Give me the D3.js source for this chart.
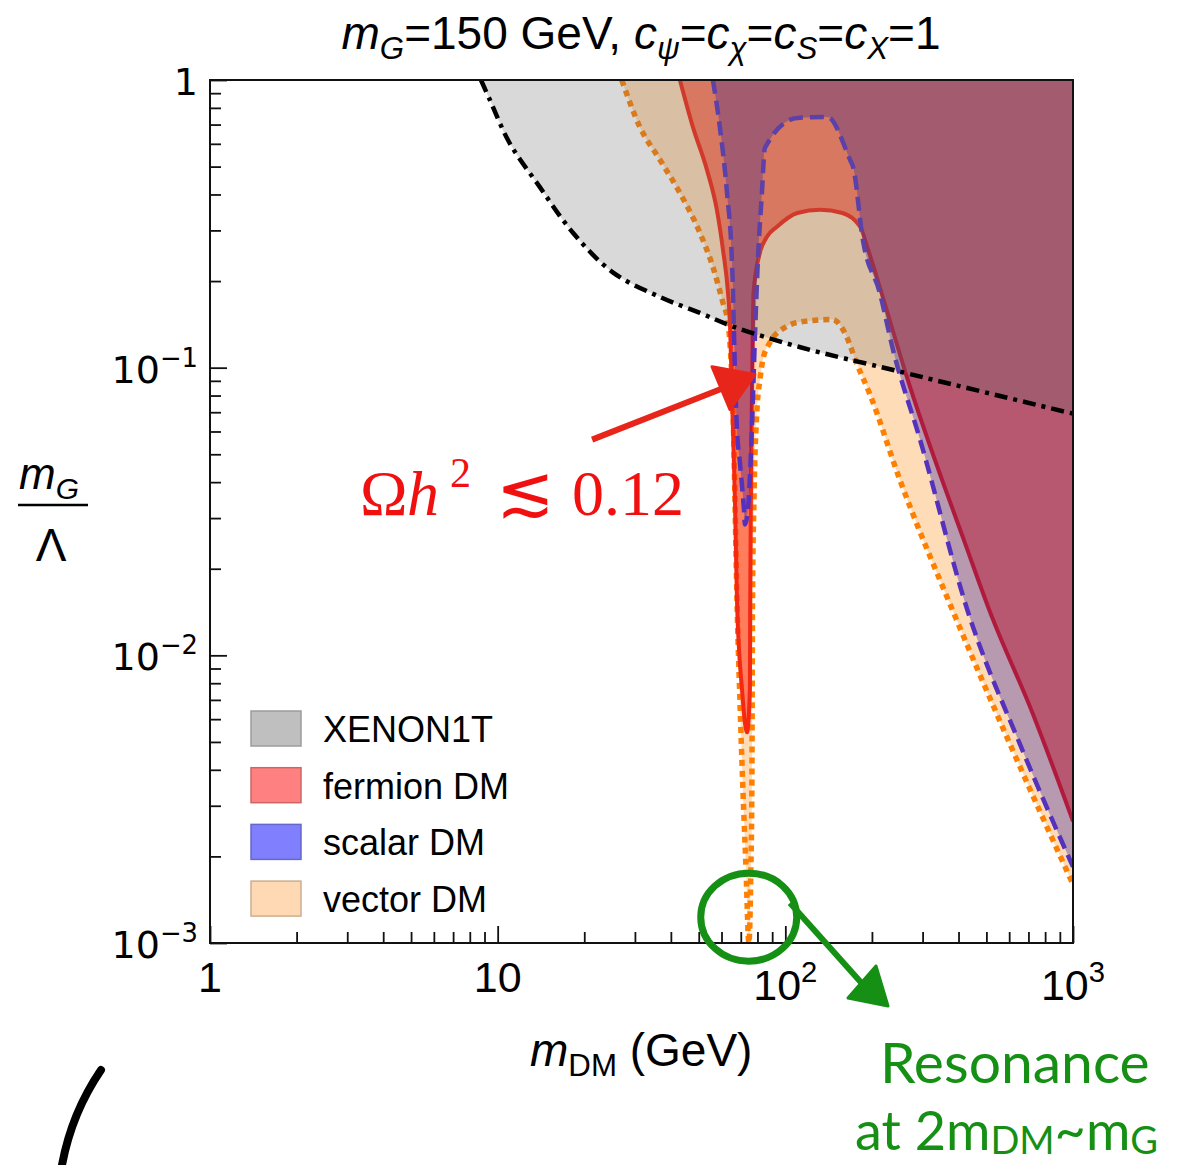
<!DOCTYPE html>
<html>
<head>
  <meta charset="utf-8">
  <title>Relic density and XENON1T bounds, m_G = 150 GeV</title>
  <script src="https://d3js.org/d3.v7.min.js"></script>
  <style>
    body { margin: 0; background: #fff; }
    text { font-family: "Liberation Sans", Arial, sans-serif; }
  </style>
</head>
<body>
  <script>
    // Boundaries: [m_DM (GeV), m_G/Lambda]
    const xenonBoundary = [[8.75, 1], [9.40, 0.852], [11.0, 0.604], [14.0, 0.425], [18.3, 0.294],
      [25.2, 0.214], [36.7, 0.176], [50.5, 0.155], [65.8, 0.139], [112, 0.118], [250, 0.0969], [1000, 0.0692]];

    const vectorBoundary = [[27.0, 1], [31.2, 0.687], [36.7, 0.527], [43.0, 0.405], [50.5, 0.294],
      [56.0, 0.224], [60.7, 0.168], [63.2, 0.143], [64.7, 0.107], [65.8, 0.0715], [66.8, 0.0348],
      [67.9, 0.0156], [69.5, 0.00704], [71.2, 0.00343], [73.0, 0.00181], [74.7, 0.001],
      [75.9, 0.00181], [76.5, 0.00343], [76.7, 0.00704], [76.9, 0.0156], [77.8, 0.0348],
      [79.7, 0.0715], [81.6, 0.0908], [83.6, 0.107], [88.3, 0.122], [101, 0.139], [112, 0.144],
      [146, 0.147], [164, 0.127], [176, 0.105], [197, 0.0806], [250, 0.0408], [383, 0.0142],
      [604, 0.00491], [1000, 0.0016]];

    const fermionBoundary = [[43.0, 1], [47.7, 0.687], [53.4, 0.487], [57.8, 0.354], [60.7, 0.257],
      [63.2, 0.182], [64.2, 0.143], [65.4, 0.0735], [66.8, 0.0348], [67.9, 0.0156], [70.7, 0.00762],
      [73.6, 0.0054], [75.3, 0.00762], [75.5, 0.0156], [75.9, 0.0348], [76.5, 0.0735], [77.1, 0.135],
      [77.5, 0.182], [81.6, 0.251], [86.3, 0.285], [93.5, 0.309], [110, 0.345], [132, 0.354],
      [158, 0.345], [182, 0.309], [194, 0.257], [222, 0.166], [261, 0.0969], [428, 0.0235],
      [514, 0.0142], [726, 0.00624], [1000, 0.00265]];

    const scalarBoundary = [[56.0, 1], [59.2, 0.687], [62.7, 0.405], [65.2, 0.237], [65.8, 0.182],
      [66.3, 0.13], [67.9, 0.0609], [69.5, 0.047], [71.8, 0.0321], [72.4, 0.0285], [74.1, 0.0321],
      [76.5, 0.0609], [78.4, 0.128], [80.3, 0.237], [82.9, 0.405], [84.9, 0.581], [110, 0.738],
      [140, 0.744], [168, 0.527], [172, 0.499], [186, 0.278], [213, 0.182], [237, 0.115],
      [294, 0.0562], [431, 0.0142], [654, 0.00491], [1000, 0.00184]];

    const xTickValues = [1, 10, 100, 1000];
    const xTickLabels = [["1", ""], ["10", ""], ["10", "2"], ["10", "3"]];
    const yTickValues = [1, 0.1, 0.01, 0.001];
    const yTickLabels = [["1", ""], ["10", "\u22121"], ["10", "\u22122"], ["10", "\u22123"]];
    const legendLabels = ["XENON1T", "fermion DM", "scalar DM", "vector DM"];

    const width = 1189, height = 1165;
    const box = {left: 210, right: 1073, top: 80, bottom: 943};

    const svg = d3.select("body").append("svg")
      .attr("width", width)
      .attr("height", height);

    const x = d3.scaleLog().domain([1, 1000]).range([box.left, box.right]);
    const y = d3.scaleLog().domain([1e-3, 1]).range([box.bottom, box.top]);

    svg.append("clipPath").attr("id", "plot")
      .append("rect")
      .attr("x", box.left).attr("y", box.top)
      .attr("width", box.right - box.left).attr("height", box.bottom - box.top);

    const line = d3.line().x(d => x(d[0])).y(d => y(d[1])).curve(d3.curveMonotoneX);
    const smooth = d3.line().x(d => x(d[0])).y(d => y(d[1])).curve(d3.curveCatmullRom.alpha(0.5));

    const layers = [
      {pts: vectorBoundary, gen: line, fill: "rgb(255,128,0)", op: 0.28, stroke: "rgb(255,128,0)", dash: "6,5", w: 5.5},
      {pts: fermionBoundary, gen: line, fill: "rgb(255,30,0)", op: 0.5, stroke: "rgb(245,40,20)", dash: null, w: 4},
      {pts: scalarBoundary, gen: line, fill: "rgb(16,0,158)", op: 0.3, stroke: "rgb(85,50,190)", dash: "14,7", w: 4.5},
      {pts: xenonBoundary, gen: smooth, fill: "rgb(107,107,107)", op: 0.26, stroke: "#000", dash: "13,6,4,6", w: 4.5}
    ];

    // each region lies above its boundary, closed along the top right corner
    const plot = svg.append("g").attr("clip-path", "url(#plot)");
    layers.forEach(l => {
      plot.append("path").attr("d", l.gen(l.pts) + "L" + x(1000) + "," + y(1) + "Z")
        .attr("fill", l.fill).attr("fill-opacity", l.op);
      plot.append("path").attr("d", l.gen(l.pts))
        .attr("fill", "none")
        .attr("stroke", l.stroke)
        .attr("stroke-width", l.w)
        .attr("stroke-dasharray", l.dash);
    });

    // ticks (inward), minor and major
    const xMinor = x.ticks().filter(v => !xTickValues.includes(v));
    const yMinor = y.ticks().filter(v => !yTickValues.includes(v));
    const noDomain = g => g.select(".domain").remove();

    svg.append("g").attr("transform", "translate(0," + box.bottom + ")")
      .call(d3.axisBottom(x).tickValues(xMinor).tickSize(-11).tickFormat("")).call(noDomain);
    svg.append("g").attr("transform", "translate(0," + box.bottom + ")")
      .call(d3.axisBottom(x).tickValues(xTickValues).tickSize(-17).tickFormat("")).call(noDomain);
    svg.append("g").attr("transform", "translate(" + box.left + ",0)")
      .call(d3.axisLeft(y).tickValues(yMinor).tickSize(-11).tickFormat("")).call(noDomain);
    svg.append("g").attr("transform", "translate(" + box.left + ",0)")
      .call(d3.axisLeft(y).tickValues(yTickValues).tickSize(-17).tickFormat("")).call(noDomain);
    svg.selectAll(".tick line").attr("stroke", "#111").attr("stroke-width", 1.8);

    svg.append("rect")
      .attr("x", box.left).attr("y", box.top)
      .attr("width", box.right - box.left).attr("height", box.bottom - box.top)
      .attr("fill", "none").attr("stroke", "#111").attr("stroke-width", 2);

    // text with italic / sub / superscript pieces
    function rich(t, parts, size) {
      let shift = 0;
      parts.forEach(([s, k]) => {
        const small = k.includes("sub") || k.includes("sup");
        const target = k.includes("sub") ? size * 0.22 : k.includes("sup") ? -size * 0.42 : 0;
        t.append("tspan").text(s)
          .attr("dy", target - shift)
          .attr("font-size", small ? size * 0.68 : size)
          .attr("font-style", k.includes("i") ? "italic" : "normal");
        shift = target;
      });
    }

    // tick labels
    xTickValues.forEach((v, i) => {
      const [base, sup] = xTickLabels[i];
      const t = svg.append("text")
        .attr("x", x(v)).attr("y", sup ? 1000 : 992)
        .attr("text-anchor", "middle").attr("font-size", 43);
      rich(t, sup ? [[base, ""], [sup, "sup"]] : [[base, ""]], 43);
    });
    yTickValues.forEach((v, i) => {
      const [base, sup] = yTickLabels[i];
      const t = svg.append("text")
        .attr("x", 198).attr("y", y(v) + 15)
        .attr("text-anchor", "end")
        .style("font-family", "'DejaVu Sans', sans-serif");
      rich(t, sup ? [[base, ""], [sup, "sup"]] : [[base, ""]], 38);
    });

    // title
    const title = svg.append("text").attr("x", 641).attr("y", 49).attr("text-anchor", "middle");
    rich(title, [["m", "i"], ["G", "isub"], ["=150 GeV, ", ""], ["c", "i"], ["\u03c8", "isub"], ["=", ""],
      ["c", "i"], ["\u03c7", "isub"], ["=", ""], ["c", "i"], ["S", "isub"], ["=", ""],
      ["c", "i"], ["X", "isub"], ["=1", ""]], 46);

    // axis labels
    const xl = svg.append("text").attr("x", 530).attr("y", 1066);
    rich(xl, [["m", "i"], ["DM", "sub"], [" (GeV)", ""]], 46);

    const yl = svg.append("g").style("font-family", "'DejaVu Sans', sans-serif");
    const yn = yl.append("text").attr("x", 19).attr("y", 489);
    rich(yn, [["m", "i"], ["G", "isub"]], 44);
    yl.append("line").attr("x1", 18).attr("x2", 88).attr("y1", 505).attr("y2", 505)
      .attr("stroke", "#000").attr("stroke-width", 2.5);
    yl.append("text").attr("x", 51).attr("y", 561).attr("text-anchor", "middle")
      .attr("font-size", 46).text("\u039b");

    // legend
    const swatch = [["#bfbfbf", "#9c9c9c"], ["#ff8080", "#cc6666"], ["#8080ff", "#6666cc"], ["#ffd9b3", "#ccae90"]];
    legendLabels.forEach((lab, i) => {
      const yy = 711 + i * 56.7;
      svg.append("rect").attr("x", 251).attr("y", yy).attr("width", 50).attr("height", 35)
        .attr("fill", swatch[i][0]).attr("stroke", swatch[i][1]).attr("stroke-width", 1.5);
      svg.append("text").attr("x", 323).attr("y", yy + 31).attr("font-size", 36).text(lab);
    });

    // relic density annotation
    const red = "#f01010";
    const om = svg.append("text").attr("y", 515).attr("fill", red).attr("font-size", 64)
      .style("font-family", "'Liberation Serif', 'DejaVu Serif', serif");
    om.append("tspan").attr("x", 360).text("\u03a9");
    om.append("tspan").attr("x", 407).attr("font-style", "italic").text("h");
    om.append("tspan").attr("x", 450).attr("dy", -28).attr("font-size", 42).text("2");
    om.append("tspan").attr("x", 496).attr("dy", 28).style("font-family", "'DejaVu Serif', serif")
      .attr("font-size", 70).text("\u2272");
    om.append("tspan").attr("x", 572).text("0.12");

    const arrowTail = [21.3, 0.0562], arrowTip = [76.5, 0.0923];
    svg.append("line")
      .attr("x1", x(arrowTail[0])).attr("y1", y(arrowTail[1]))
      .attr("x2", x(arrowTip[0]) - 20).attr("y2", y(arrowTip[1]) + 7)
      .attr("stroke", "#e8251a").attr("stroke-width", 6);
    const head = [[55.6, 0.1008], [78.4, 0.0947], [64.2, 0.0715]];
    svg.append("path")
      .attr("d", "M" + head.map(p => x(p[0]) + "," + y(p[1])).join("L") + "Z")
      .attr("fill", "#e8251a").attr("stroke", "#e8251a").attr("stroke-width", 3)
      .attr("stroke-linejoin", "round");

    // resonance annotation
    const green = "#159015";
    const res = [74.6, 0.00123];
    svg.append("ellipse").attr("cx", x(res[0])).attr("cy", y(res[1])).attr("rx", 48).attr("ry", 44)
      .attr("fill", "none").attr("stroke", green).attr("stroke-width", 7);
    svg.append("line").attr("x1", 790).attr("y1", 903).attr("x2", 866).attr("y2", 988)
      .attr("stroke", green).attr("stroke-width", 6);
    svg.append("path").attr("d", "M876,966L848,998L888,1006Z")
      .attr("fill", green).attr("stroke", green).attr("stroke-width", 3).attr("stroke-linejoin", "round");

    const gfont = "Lato, 'Open Sans', sans-serif";
    svg.append("text").attr("x", 880).attr("y", 1083).attr("fill", green)
      .attr("font-size", 57).style("font-family", gfont).text("Resonance");
    const g2 = svg.append("text").attr("x", 855).attr("y", 1150).attr("fill", green)
      .attr("font-size", 54).style("font-family", gfont);
    g2.append("tspan").text("at 2m");
    g2.append("tspan").attr("font-size", 38).attr("dy", 4).text("DM");
    g2.append("tspan").attr("dy", -4).text("~m");
    g2.append("tspan").attr("font-size", 38).attr("dy", 4).text("G");

    // stray pen stroke, bottom left
    svg.append("path").attr("d", "M101,1070C86,1092 70,1122 62,1165")
      .attr("fill", "none").attr("stroke", "#000").attr("stroke-width", 8).attr("stroke-linecap", "round");
  </script>
</body>
</html>
